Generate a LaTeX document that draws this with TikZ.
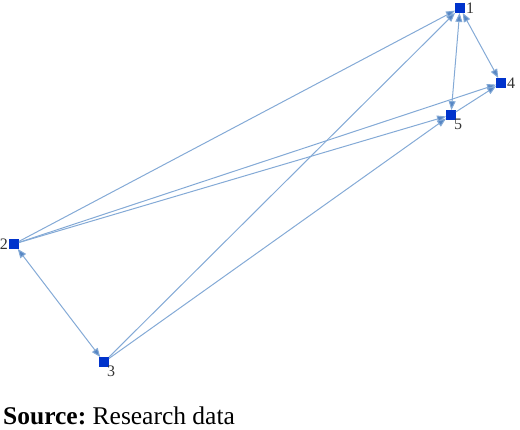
\documentclass[tikz,border=0pt]{standalone}
\usepackage{fontspec}
\setmainfont{Liberation Serif}
\usepackage{xcolor}
\usetikzlibrary{positioning,arrows.meta}
\definecolor{EdgeBlue}{RGB}{132,170,214}
\definecolor{TipBlue}{RGB}{86,134,196}
\definecolor{NodeBlue}{RGB}{0,51,204}
\frenchspacing

\begin{document}
\begin{tikzpicture}[x=1pt,y=-1pt]
				\tikzset{
					v/.style={rectangle, fill=NodeBlue, draw=none,
						minimum size=9.5pt, inner sep=0pt},
					e/.style={-{Triangle[length=9pt,width=7pt,fill=TipBlue]}, draw=EdgeBlue, line width=1pt},
					ee/.style={{Triangle[length=9pt,width=7pt,fill=TipBlue]}-{Triangle[length=9pt,width=7pt,fill=TipBlue]}, draw=EdgeBlue, line width=1pt},
					w/.style={font=\fontsize{16}{16}\selectfont, inner sep=1pt, text=black!80}
				}
				\useasboundingbox (0,0) rectangle (520,429);
				
				% ======= Nodes =======
				\node[v, label={[w]right:1}] (n1) at (460,  8) {};
				\node[v, label={[w]right:4}] (n4) at (501, 83) {};
				\node[v, label={[w, xshift=-3pt, yshift=2pt]below right:5}] (n5) at (451,115) {};
				\node[v, label={[w]left:2}] (n2) at ( 14,244) {};
				\node[v, label={[w, xshift=-3pt, yshift=2pt]below right:3}] (n3) at (104,362) {};
				
				% ======= Directed edges =======
				\draw[e] (n2) -- (n1);
				\draw[e] (n3) -- (n1);
				\draw[ee] (n1) -- (n4);
				\draw[ee] (n1) -- (n5);
				\draw[e] (n2) -- (n4);
				\draw[e] (n2) -- (n5);
				\draw[e] (n3) -- (n5);
				\draw[e] (n5) -- (n4);
				\draw[ee] (n2) -- (n3);
				
				% ======= Caption =======
				\node[anchor=base west, inner sep=0pt, font=\fontsize{25.5}{25.5}\selectfont] (src) at (3,424) {\textbf{Source:} Research data};
			\end{tikzpicture}
\end{document}
